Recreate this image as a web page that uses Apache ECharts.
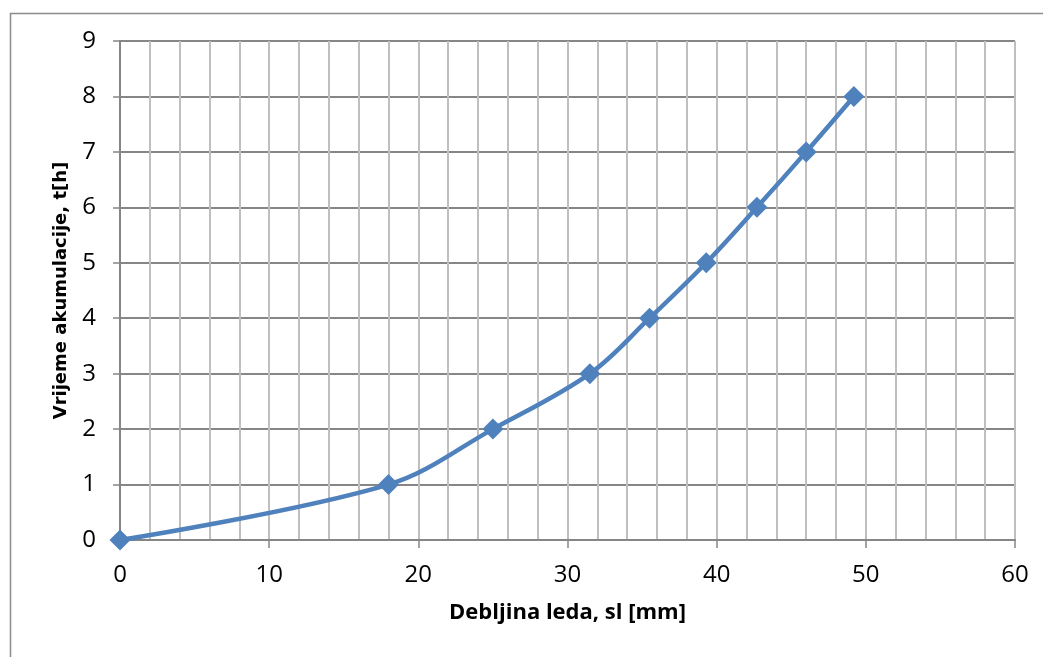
<!DOCTYPE html>
<html>
<head>
<meta charset="utf-8">
<script src="https://cdn.jsdelivr.net/npm/echarts@6/dist/echarts.min.js"></script>
<style>html,body{margin:0;padding:0;background:#fff;}#c{width:1043px;height:657px;}</style>
</head>
<body>
<div id="c"></div>
<script>
const thickness = [0, 18, 25, 31.5, 35.5, 39.3, 42.7, 46, 49.2];
const hours = [0, 1, 2, 3, 4, 5, 6, 7, 8];
const xTitle = 'Debljina leda, sl [mm]';
const yTitle = 'Vrijeme akumulacije, t[h]';

const chart = echarts.init(document.getElementById('c'));
chart.setOption({
  animation: false,
  backgroundColor: '#fff',
  graphic: [{
    type: 'rect', left: 8, top: 11,
    shape: { width: 1100, height: 700 },
    style: { fill: 'none', stroke: '#8c8c8c', lineWidth: 1.5 },
    silent: true
  }],
  grid: { left: 120, right: 28, top: 41, bottom: 117 },
  xAxis: {
    type: 'value', min: 0, max: 60, interval: 10, splitNumber: 6,
    name: xTitle, nameLocation: 'middle', nameGap: 62,
    nameTextStyle: { fontFamily: 'Open Sans', fontWeight: 'bold', fontSize: 22, color: '#000' },
    axisLine: { show: true, lineStyle: { color: '#868686', width: 2 } },
    axisTick: { show: true, length: 8, lineStyle: { color: '#868686', width: 1.5 } },
    axisLabel: { show: true, fontFamily: 'Open Sans', fontSize: 24, color: '#000', margin: 23 },
    splitLine: { show: true, lineStyle: { color: '#bfbfbf', width: 2 } },
    minorTick: { show: false, splitNumber: 5 },
    minorSplitLine: { show: true, lineStyle: { color: '#bfbfbf', width: 2 } }
  },
  yAxis: {
    type: 'value', min: 0, max: 9, interval: 1,
    name: yTitle, nameLocation: 'middle', nameGap: 50,
    nameTextStyle: { fontFamily: 'DejaVu Sans', fontWeight: 'bold', fontSize: 18, color: '#000' },
    axisLine: { show: true, lineStyle: { color: '#868686', width: 2 } },
    axisTick: { show: true, length: 7, lineStyle: { color: '#868686', width: 1.5 } },
    axisLabel: { show: true, fontFamily: 'Open Sans', fontSize: 24, color: '#000', margin: 24 },
    splitLine: { show: true, lineStyle: { color: '#868686', width: 2 } }
  },
  series: [{
    type: 'line',
    data: thickness.map((x, i) => [x, hours[i]]),
    smooth: 0.35,
    symbol: 'diamond',
    symbolSize: 21,
    lineStyle: { color: '#4f81bd', width: 4.5 },
    itemStyle: { color: '#4f81bd' },
    z: 5
  }]
});
</script>
</body>
</html>
